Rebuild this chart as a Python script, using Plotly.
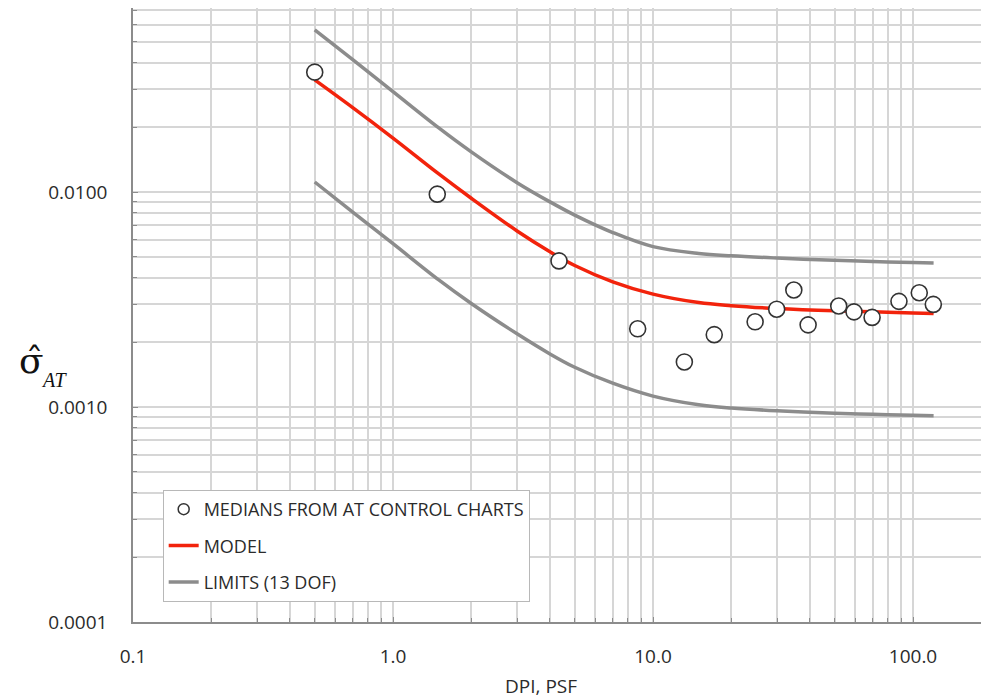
import plotly.graph_objects as go

# Median AT sigma estimates from the control charts
dpi_medians = [0.5, 1.48, 4.35, 8.73, 13.2, 17.2, 24.7, 29.9, 34.8, 39.5,
               51.8, 59.3, 69.6, 88.3, 105.7, 119.7]
sigma_medians = [0.0361, 0.00977, 0.00478, 0.00231, 0.00162, 0.00217, 0.00249,
                 0.00285, 0.00350, 0.00241, 0.00295, 0.00277, 0.00261, 0.00310,
                 0.00340, 0.00300]

# Model curve and 13-DOF limits
dpi_curve = [0.5, 0.7, 1.0, 1.5, 2.0, 3.0, 4.0, 5.0, 7.0, 10.0, 15.0, 20.0,
             30.0, 50.0, 70.0, 100.0, 120.0]
sigma_model = [0.0332, 0.02467, 0.01781, 0.01213, 0.00935, 0.00659, 0.00529,
               0.00455, 0.00382, 0.00335, 0.00306, 0.00296, 0.00287, 0.00280,
               0.00277, 0.00274, 0.00272]
sigma_upper = [0.0567, 0.04128, 0.02931, 0.01987, 0.01537, 0.01105, 0.00902,
               0.00781, 0.00648, 0.00557, 0.00518, 0.00505, 0.00493, 0.00481,
               0.00475, 0.00470, 0.00468]
sigma_lower = [0.01113, 0.00807, 0.00575, 0.00390, 0.00303, 0.00219, 0.00177,
               0.00153, 0.00129, 0.001124, 0.001024, 0.000989, 0.000960,
               0.000936, 0.000925, 0.000915, 0.000911]

x_ticks = [0.1, 1.0, 10.0, 100.0]
x_tick_text = ["0.1", "1.0", "10.0", "100.0"]
y_ticks = [0.0001, 0.001, 0.01]
y_tick_text = ["0.0001", "0.0010", "0.0100"]

RED = "#f2230c"
GRAY = "#8c8c8c"
GRID = "#d6d6d6"
TEXT = "#2b2b2b"
FONT = "Open Sans"

x_minor = [m * 10.0 ** e for e in range(-1, 3) for m in range(2, 10)]
y_minor = [m * 10.0 ** e for e in range(-4, -1) for m in range(2, 10)]

fig = go.Figure()

fig.add_trace(go.Scatter(
    x=dpi_curve, y=sigma_upper, mode="lines",
    line=dict(color=GRAY, width=3.5, shape="spline", smoothing=1.0),
    showlegend=False, hoverinfo="skip"))
fig.add_trace(go.Scatter(
    x=dpi_curve, y=sigma_lower, mode="lines",
    line=dict(color=GRAY, width=3.5, shape="spline", smoothing=1.0),
    showlegend=False, hoverinfo="skip"))
fig.add_trace(go.Scatter(
    x=dpi_curve, y=sigma_model, mode="lines",
    line=dict(color=RED, width=3.5, shape="spline", smoothing=1.0),
    showlegend=False, hoverinfo="skip"))
fig.add_trace(go.Scatter(
    x=dpi_medians, y=sigma_medians, mode="markers",
    marker=dict(symbol="circle", size=16, color="white", line=dict(color="#333333", width=1.6)),
    showlegend=False))

# legend entries
fig.add_trace(go.Scatter(
    x=[None], y=[None], mode="markers", name="MEDIANS FROM AT CONTROL CHARTS",
    marker=dict(symbol="circle", size=11, color="white", line=dict(color="#333333", width=1.5)),
    legendgroup="a"))
fig.add_trace(go.Scatter(
    x=[None], y=[None], mode="lines", name="MODEL",
    line=dict(color=RED, width=3.5), legendgroup="b"))
fig.add_trace(go.Scatter(
    x=[None], y=[None], mode="lines", name="LIMITS (13 DOF)",
    line=dict(color=GRAY, width=3.5), legendgroup="c"))

fig.update_layout(
    width=981, height=700,
    margin=dict(l=133, r=0, t=8, b=78),
    paper_bgcolor="white", plot_bgcolor="white",
    font=dict(family=FONT, color=TEXT),
    legend=dict(
        x=0.035, y=0.215, xanchor="left", yanchor="top",
        bgcolor="white", bordercolor="#b8b8b8", borderwidth=1,
        font=dict(family=FONT, size=18, color=TEXT),
        itemwidth=30, tracegroupgap=10, traceorder="grouped",
    ),
    xaxis=dict(
        type="log", range=[-1, 2.2615],
        tickvals=x_ticks, ticktext=x_tick_text,
        tickfont=dict(size=19, family=FONT, color=TEXT),
        showgrid=True, gridcolor=GRID, gridwidth=1.5,
        showline=True, linecolor=GRAY, linewidth=1.5,
        ticks="inside", ticklen=5, tickcolor=GRAY,
        ticklabelstandoff=16,
        minor=dict(tickvals=x_minor, showgrid=True, gridcolor=GRID, gridwidth=1.5,
                   ticks="inside", ticklen=4, tickcolor=GRAY),
        zeroline=False,
    ),
    yaxis=dict(
        type="log", range=[-4, -1.1442],
        tickvals=y_ticks, ticktext=y_tick_text,
        tickfont=dict(size=19, family=FONT, color=TEXT),
        showgrid=True, gridcolor=GRID, gridwidth=1.5,
        showline=True, linecolor=GRAY, linewidth=1.5,
        ticks="inside", ticklen=5, tickcolor=GRAY,
        ticklabelstandoff=20,
        minor=dict(tickvals=y_minor, showgrid=True, gridcolor=GRID, gridwidth=1.5,
                   ticks="inside", ticklen=4, tickcolor=GRAY),
        zeroline=False,
    ),
)

# axis titles
fig.add_annotation(
    xref="paper", yref="paper", x=(541 - 133) / 848, y=-(686 - 622) / 614,
    text="DPI, PSF", showarrow=False, font=dict(family=FONT, size=19, color=TEXT),
    xanchor="center", yanchor="middle")
fig.add_annotation(
    xref="paper", yref="paper", x=-(133 - 31) / 848, y=(622 - 360) / 614,
    text="\u03c3\u0302", showarrow=False,
    font=dict(family="DejaVu Serif", size=36, color="#111111"),
    xanchor="center", yanchor="middle")
fig.add_annotation(
    xref="paper", yref="paper", x=-(133 - 54) / 848, y=(622 - 380) / 614,
    text="<i>AT</i>", showarrow=False,
    font=dict(family="Liberation Serif", size=20, color="#111111"),
    xanchor="center", yanchor="middle")

fig.write_html("out.html")
